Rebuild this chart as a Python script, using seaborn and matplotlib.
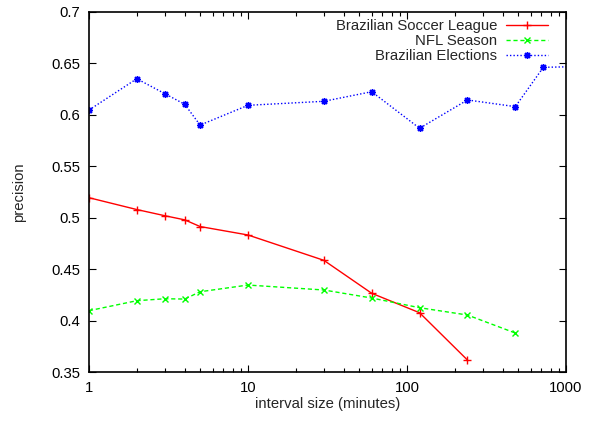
import matplotlib
matplotlib.use("Agg")
import matplotlib.pyplot as plt
import matplotlib.ticker as mticker
import seaborn as sns
import pandas as pd

sns.set_style("ticks")
plt.rcParams['font.family'] = ['Liberation Sans', 'DejaVu Sans']

soccer_x = [1, 2, 3, 4, 5, 10, 30, 60, 120, 240]
soccer_y = [0.5195, 0.508, 0.502, 0.498, 0.4915, 0.4833, 0.4587, 0.4267, 0.4078, 0.3619]

nfl_x = [1, 2, 3, 4, 5, 10, 30, 60, 120, 240, 480]
nfl_y = [0.4098, 0.4195, 0.4214, 0.4211, 0.4282, 0.4347, 0.4299, 0.4221, 0.4127, 0.4056, 0.3881]

elec_x = [1, 2, 3, 4, 5, 10, 30, 60, 120, 240, 480, 720, 1440]
elec_y = [0.6046, 0.635, 0.6205, 0.6102, 0.590, 0.6092, 0.6131, 0.6224, 0.5869, 0.6144, 0.6079, 0.6461, 0.647]

labels = ["Brazilian Soccer League", "NFL Season", "Brazilian Elections"]
y_ticks = [0.35, 0.4, 0.45, 0.5, 0.55, 0.6, 0.65, 0.7]
x_ticks = [1, 10, 100, 1000]

FS = 10.7

fig = plt.figure(figsize=(5.93, 4.21), dpi=100)
ax = fig.add_axes([0.150, 0.1157, 0.8045, 0.8563])

series = [
    (soccer_x, soccer_y, labels[0], "#ff0000", "-", "+", 6),
    (nfl_x, nfl_y, labels[1], "#00ff00", (0, (3, 2)), "x", 5),
    (elec_x, elec_y, labels[2], "#0000ff", (0, (1, 1.5)), (8, 2, 0), 5),
]
for xs, ys, lab, col, ls, mk, ms in series:
    df = pd.DataFrame({"x": xs, "y": ys})
    sns.lineplot(data=df, x="x", y="y", ax=ax, color=col, linestyle=ls,
                 marker=mk, markersize=ms, markeredgecolor=col,
                 markeredgewidth=1.0, linewidth=1.0, label=lab)

ax.set_xscale("log")
ax.set_xlim(1, 1000)
ax.set_ylim(0.35, 0.7)
ax.set_xticks(x_ticks)
ax.xaxis.set_major_formatter(mticker.FuncFormatter(lambda v, p: "%g" % v))
ax.set_yticks(y_ticks)
ax.yaxis.set_major_formatter(mticker.FuncFormatter(lambda v, p: "%g" % v))
ax.xaxis.set_minor_locator(mticker.LogLocator(base=10, subs=range(2, 10)))
ax.xaxis.set_minor_formatter(mticker.NullFormatter())

ax.tick_params(axis="both", which="both", direction="in", top=True, right=True,
               labelsize=FS, colors="black")
ax.tick_params(which="major", length=5, width=0.8, pad=6)
ax.tick_params(which="minor", length=3, width=0.8)
for s in ax.spines.values():
    s.set_visible(True)
    s.set_linewidth(1.2)
    s.set_color("black")

ax.set_xlabel("interval size (minutes)", fontsize=FS, labelpad=2)
ax.set_ylabel("precision", fontsize=FS, labelpad=18.5)

leg = ax.legend(loc="upper right", frameon=False, markerfirst=False,
                fontsize=FS, handlelength=2.8, handletextpad=0.6,
                labelspacing=0.05, borderaxespad=0.3,
                bbox_to_anchor=(0.983, 1.008))
for t in leg.get_texts():
    t.set_ha("right")

fig.savefig("out.png", dpi=100)
